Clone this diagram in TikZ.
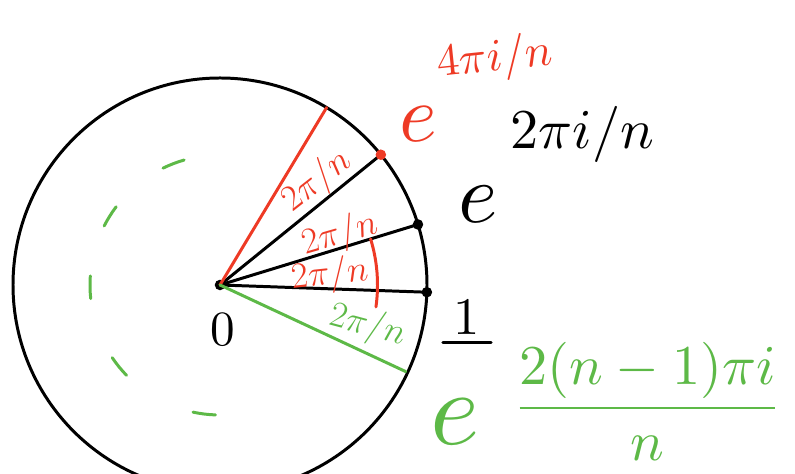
\documentclass[tikz,border=0pt]{standalone}
\usepackage{amsmath}
\usetikzlibrary{positioning,calc}
\definecolor{vred}{HTML}{EE3A25}
\definecolor{vgreen}{HTML}{5DB947}
\tikzset{
  rim/.style={draw=black,line width=1.7pt},
  rayk/.style={draw=black,line width=1.7pt,line cap=round},
  rayr/.style={draw=vred,line width=1.7pt,line cap=round},
  rayg/.style={draw=vgreen,line width=1.7pt,line cap=round},
  knot/.style={circle,fill=#1,inner sep=0pt,minimum size=6pt},
  angl/.style={text=#1,font=\huge,inner sep=0pt},
  hand/.style={inner sep=0pt,scale=#1},
}
\begin{document}
\begin{tikzpicture}
  \useasboundingbox (0,0) rectangle (15.9,9.48);
  \node[knot=black] (o) at (4.4,3.78) {};
  \draw[rim] (o.center) circle (4.14);
  % points on the rim
  \coordinate (r0) at ($(o.center)+(-2:4.14)$);
  \coordinate (r1) at ($(o.center)+(17:4.14)$);
  \coordinate (r2) at ($(o.center)+(39:4.14)$);
  \coordinate (r3) at ($(o.center)+(59:4.14)$);
  \coordinate (r4) at ($(o.center)+(-25:4.1)$);
  \draw[rayk] (o.center) -- (r0);
  \draw[rayk] (o.center) -- (r1);
  \draw[rayk] (o.center) -- (r2);
  \draw[rayr] (o.center) -- (r3);
  \draw[rayg] (o.center) -- (r4);
  \node[knot=black] (d0) at (r0) {};
  \node[knot=black] (d1) at (r1) {};
  \node[knot=vred] (d2) at (r2) {};
  % angle mark and dashes
  \draw[rayr] ($(o.center)+(17:3.15)$) arc (17:-8:3.15);
  \foreach \a in {111,148,181,219,263}
    \draw[rayg] ($(o.center)+(\a-5:2.6)$) arc (\a-5:\a+5:2.6);
  % angle labels
  \node[angl=vred,rotate=38] (a3) at (6.35,5.85) {$2\pi/n$};
  \node[angl=vred,rotate=16] (a2) at (6.8,4.78) {$2\pi/n$};
  \node[angl=vred,rotate=6] (a1) at (6.6,3.98) {$2\pi/n$};
  \node[angl=vgreen,rotate=-15] (a4) at (7.35,2.96) {$2\pi/n$};
  % point labels
  \node[hand=2.8] (zero) at (4.45,2.88) {$0$};
  \node[hand=3] (one) at (9.34,3.12) {$1$};
  \draw[rayk] ($(one.south west)+(-0.2,-0.12)$) -- ($(one.south east)+(0.2,-0.12)$);
  \node[hand=4.6,text=vred] (e2) at (8.36,7.0) {$e$};
  \node[hand=2.6,text=vred,rotate=6] (x2) at (9.9,8.3) {$4\pi i/n$};
  \node[hand=4.8] (e1) at (9.56,5.4) {$e$};
  \node[hand=3.2] (x1) at (11.65,6.8) {$2\pi i/n$};
  \node[hand=6,text=vgreen] (e3) at (9.1,1.05) {$e$};
  \node[hand=3.2,text=vgreen] (x3) at (12.95,1.45) {$\dfrac{2(n-1)\pi i}{n}$};
\end{tikzpicture}
\end{document}
